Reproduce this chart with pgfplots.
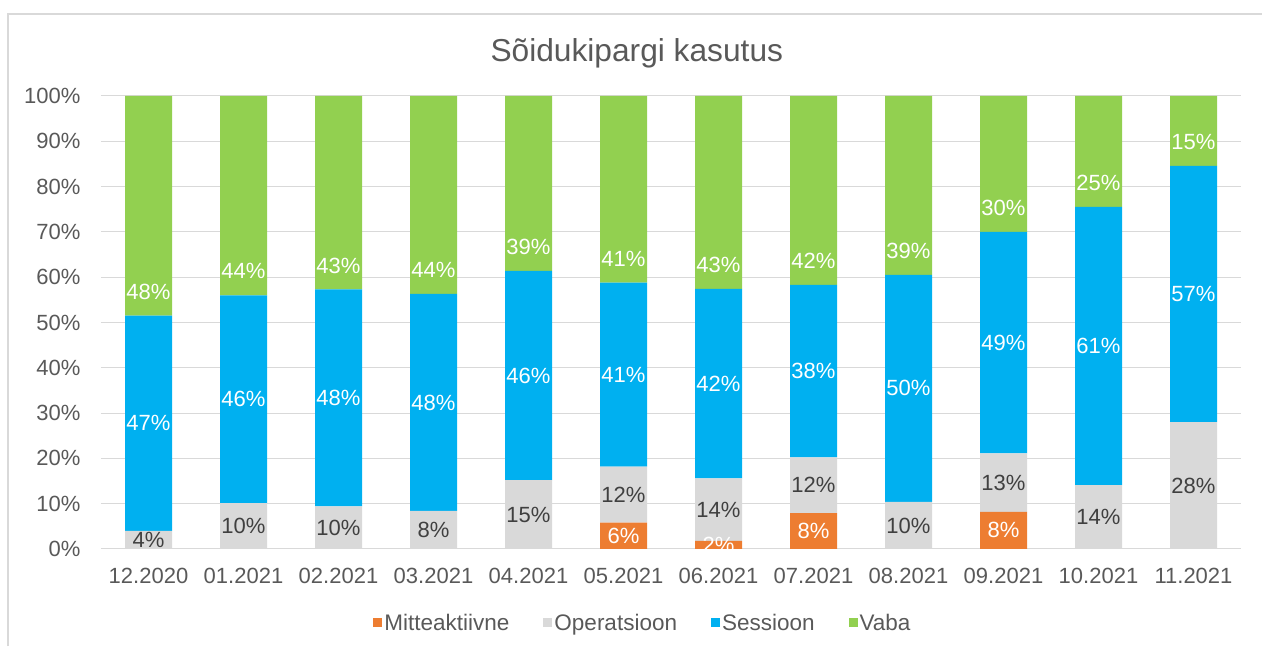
\documentclass[border=0pt]{standalone}
\usepackage{pgfplots}
\pgfplotsset{compat=1.18}
\usepackage{pgfplotstable}
\usepackage{fontspec}
\setmainfont{Liberation Sans}
\definecolor{cOrange}{HTML}{ED7D31}
\definecolor{cGray}{HTML}{D9D9D9}
\definecolor{cBlue}{HTML}{00B0F0}
\definecolor{cGreen}{HTML}{92D050}
\definecolor{cText}{HTML}{595959}
\definecolor{cDark}{HTML}{404040}
\definecolor{cGrid}{HTML}{D9D9D9}

\pgfplotstableread{
x  m    o     s     v     lm lo ls lv
0  0    4.0   47.5  48.5  0  4  47 48
1  0    10.1  45.9  44.0  0  10 46 44
2  0    9.4   47.9  42.7  0  10 48 43
3  0    8.4   47.9  43.7  0  8  48 44
4  0    15.2  46.2  38.6  0  15 46 39
5  5.8  12.4  40.6  41.2  6  12 41 41
6  1.8  13.8  41.8  42.6  2  14 42 43
7  7.9  12.3  38.1  41.7  8  12 38 42
8  0    10.4  50.1  39.5  0  10 50 39
9  8.2  12.9  48.9  30.0  8  13 49 30
10 0    14.1  61.4  24.5  0  14 61 25
11 0    28.0  56.6  15.4  0  28 57 15
}\data

\begin{document}
\begin{tikzpicture}
\useasboundingbox (0,0) rectangle (1262pt,646pt);
\draw[cGrid, line width=1.5pt] (8pt,0pt) -- (8pt,632pt) -- (1262pt,632pt);
\begin{axis}[
  at={(101pt,97pt)}, anchor=south west,
  scale only axis,
  width=1140pt,
  y=4.53pt,
  ybar stacked,
  bar width=47pt,
  xmin=-0.5, xmax=11.5,
  ymin=0, ymax=100,
  axis line style={draw=none},
  major tick length=0pt,
  ymajorgrids,
  grid style={cGrid, line width=1pt},
  xtick={0,...,11},
  xticklabels={12.2020,01.2021,02.2021,03.2021,04.2021,05.2021,06.2021,07.2021,08.2021,09.2021,10.2021,11.2021},
  ytick={0,10,...,100},
  yticklabels={0\%,10\%,20\%,30\%,40\%,50\%,60\%,70\%,80\%,90\%,100\%},
  ticklabel style={font=\fontsize{22}{26}\selectfont, text=cText},
  xticklabel style={yshift=-16pt},
  yticklabel style={xshift=-17pt},
  title={Sõidukipargi kasutus},
  title style={at={(0.470,1.064)}, anchor=base, font=\fontsize{31.7}{36}\selectfont, text=cText},
  point meta=explicit symbolic,
  visualization depends on={rawy \as \segval},
  nodes near coords={\ifdim\pgfplotspointmeta pt>0pt\pgfplotspointmeta\%\fi},
  every node near coord/.append style={anchor=center, font=\fontsize{22}{26}\selectfont},
  legend columns=4,
  legend style={at={(0.4754,-0.163)}, anchor=center, draw=none, fill=none,
    font=\fontsize{22.5}{26}\selectfont, text=cText,
    /tikz/every even column/.append style={column sep=32pt}},
  legend image code/.code={\fill[#1] (0pt,-4.5pt) rectangle (9pt,4.5pt);},
]
\addplot[fill=cOrange, draw=none,
  every node near coord/.append style={text=white}]
  table[x=x, y=m, meta=lm]{\data};
\addplot[fill=cGray, draw=none,
  every node near coord/.append style={text=cDark}]
  table[x=x, y=o, meta=lo]{\data};
\addplot[fill=cBlue, draw=none,
  every node near coord/.append style={text=white}]
  table[x=x, y=s, meta=ls]{\data};
\addplot[fill=cGreen, draw=none,
  every node near coord/.append style={text=white, yshift={24pt-2.265pt*\segval}}]
  table[x=x, y=v, meta=lv]{\data};
\legend{Mitteaktiivne, Operatsioon, Sessioon, Vaba}
\end{axis}
\end{tikzpicture}
\end{document}
